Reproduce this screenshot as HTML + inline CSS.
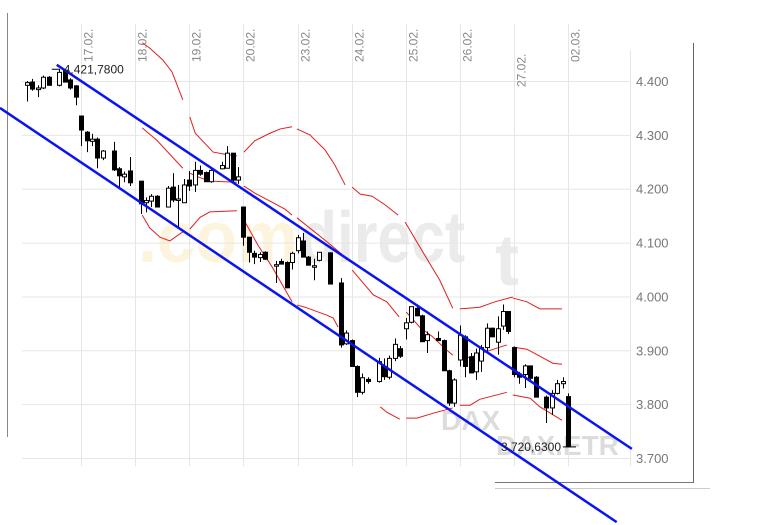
<!DOCTYPE html>
<html><head><meta charset="utf-8"><style>
html,body{margin:0;padding:0;background:#fff;}
svg{display:block;font-family:"Liberation Sans",sans-serif;}
</style></head><body>
<svg id="chart" width="782" height="525" viewBox="0 0 782 525" xmlns="http://www.w3.org/2000/svg">
<g id="wm">
<text x="138" y="262" font-size="72" font-weight="bold" fill="#fdf4de" textLength="160" lengthAdjust="spacingAndGlyphs">.com</text>
<text x="300" y="262" font-size="72" font-weight="bold" fill="#ebebeb" textLength="165" lengthAdjust="spacingAndGlyphs">direct</text>
<text x="495" y="285" font-size="72" font-weight="bold" fill="#ebebeb">t</text>
<text x="441" y="430" font-size="28" font-weight="bold" fill="#dcdcdc">DAX</text>
<text x="496" y="455" font-size="28" font-weight="bold" fill="#dcdcdc">DAX.ETR</text>
</g>
<g id="grid">
<line x1="630.5" y1="50" x2="630.5" y2="466" stroke="#e6e6e6" stroke-width="1"/>
</g>
<g id="frame">
<line x1="7.5" y1="13" x2="7.5" y2="437" stroke="#888" stroke-width="1"/>
<line x1="693.5" y1="43" x2="693.5" y2="482" stroke="#666" stroke-width="1"/>
<line x1="495" y1="482.5" x2="694" y2="482.5" stroke="#777" stroke-width="1"/>
<line x1="495" y1="488.5" x2="710" y2="488.5" stroke="#ccc" stroke-width="1"/>
</g>
<g id="bands"></g>
<g id="candles"></g>
<g id="channel"></g>
<g id="labels"></g>
</svg>
<script>
const slots=[0,1,2,3,4,6,7,8,9,10,11,12,13,14,16,17,18,19,21,22,23,24,26,27,28,29,30,31,32,33,34,36,37,38,39,40,41,42,43,44,46,47,48,49,50,51,52,53,54,56,58,59,60,61,62,63,65,66,67,68,69,70,71,72,73,74,76,77,78,79,80,81,82,83,84,85,86,87,88,89,90,91,92,93,94,96,97,98,99,100];
const opens=[4392,4398,4384,4387,4407,4392,4420,4402,4391,4335,4305,4288,4292,4257,4270,4237,4222,4233,4214,4174,4177,4186,4166,4203,4180,4174,4216,4207,4234,4230,4213,4237,4238,4266,4216,4166,4110,4080,4072,4082,4058,4065,4063,4063,4085,4103,4073,4055,4067,4081,4025,3912,3918,3870,3822,3846,3842,3870,3850,3885,3903,3940,3952,3978,3964,3918,3922,3918,3862,3802,3882,3925,3888,3860,3880,3905,3941,3915,3945,3972,3905,3856,3855,3871,3850,3813,3793,3820,3838,3814];
const highs=[4400,4404,4392,4410,4409,4422,4422,4405,4392,4335,4307,4302,4295,4272,4287,4240,4232,4259,4214,4184,4190,4188,4205,4229,4207,4218,4233,4250,4243,4232,4236,4250,4279,4266,4240,4166,4110,4085,4082,4084,4066,4070,4065,4083,4114,4118,4075,4070,4082,4082,4034,3937,3920,3872,3857,3850,3886,3885,3890,3922,3908,3960,3981,3980,3966,3935,3935,3920,3864,3848,3946,3928,3895,3903,3910,3950,3942,3963,3985,3972,3907,3860,3874,3872,3852,3816,3826,3845,3850,3820];
const lows=[4362,4382,4370,4385,4392,4390,4398,4384,4355,4279,4268,4279,4238,4253,4233,4203,4212,4205,4153,4156,4166,4166,4166,4175,4127,4174,4196,4194,4224,4213,4211,4236,4238,4210,4209,4094,4063,4060,4064,4068,4025,4060,4016,4050,4080,4073,4058,4030,4065,4023,3905,3910,3870,3813,3818,3838,3840,3845,3846,3880,3886,3920,3950,3964,3916,3895,3918,3862,3797,3795,3870,3850,3858,3845,3860,3895,3925,3892,3938,3930,3850,3838,3830,3845,3813,3765,3780,3818,3829,3720];
const closes=[4397,4385,4387,4407,4392,4416,4398,4387,4370,4309,4289,4292,4257,4270,4235,4224,4227,4211,4172,4178,4186,4166,4201,4179,4181,4207,4205,4234,4227,4213,4234,4243,4266,4216,4222,4110,4082,4073,4078,4069,4059,4060,4016,4080,4109,4073,4058,4057,4082,4023,3910,3932,3870,3822,3849,3842,3879,3851,3885,3911,3889,3951,3981,3964,3916,3929,3918,3862,3802,3845,3928,3870,3858,3895,3905,3941,3925,3940,3972,3935,3855,3850,3871,3848,3813,3793,3820,3838,3842,3721];
const yTicks=[4400,4300,4200,4100,4000,3900,3800,3700];
const yTickLabels=["4.400","4.300","4.200","4.100","4.000","3.900","3.800","3.700"];
const dateSlots=[10,20,30,40,50,60,70,80,90,100];
const dateLabels=["17.02.","18.02.","19.02.","20.02.","23.02.","24.02.","25.02.","26.02.","27.02.","02.03."];
const upperBand=[[[21.3,4471],[22.7,4461],[25.1,4439],[26.8,4417],[28.8,4365]],[[30.1,4333],[31.1,4303],[34.4,4268],[36.6,4264],[38.8,4261]],[[40.1,4268],[42.1,4289],[44.9,4303],[46.8,4311],[49,4315]],[[49.9,4311],[52.3,4300],[55.1,4272],[56.9,4244],[58.8,4207]],[[60.1,4203],[61.6,4190],[63.8,4186],[66.2,4170],[68.6,4151]],[[69.9,4138],[72.6,4092],[76.3,4030],[78.7,3978]],[[80,3977],[83.7,3980],[86.5,3990],[89.8,3999]],[[89.8,3997],[92.4,3990],[94.8,3977],[98.9,3977]]];
const midBand=[[[21.3,4313],[24,4290],[28.8,4238]],[[30.1,4229],[31.1,4224],[33.8,4214],[38.8,4212]],[[40.1,4205],[42.1,4192],[44.9,4177],[47.7,4162],[49,4151]],[[49.9,4146],[55.5,4101],[57.9,4081],[59.1,4068]],[[60.1,4049],[64,4003],[66.5,3990],[68.8,3962]],[[70.1,3971],[72.6,3943],[75,3925],[77.6,3900],[78.7,3891]],[[80,3887],[81.9,3887],[85.6,3900],[88.7,3910]],[[89.8,3906],[92.4,3902],[97.2,3876],[98.9,3874]]];
const lowerBand=[[[21.3,4151],[22.7,4127],[24.6,4110],[26.4,4103],[28.8,4120]],[[30.1,4125],[32,4147],[33.8,4157],[38.8,4159]],[[40.1,4142],[42.7,4095],[45.3,4055],[49,3990]],[[49.9,3984],[51.4,3980],[55.5,3965],[56.6,3960],[57.5,3943]],[[65.3,3795],[66.5,3785],[68.9,3772]],[[70.1,3774],[72.1,3774],[75,3783],[78.7,3793]],[[80,3798],[81.9,3798],[83.7,3809],[88.7,3822]],[[89.8,3817],[93,3811],[94.8,3795],[98.9,3770]]];
const channelUpper=[[5.5,4430],[111.8,3717]];
const channelLower=[[-5,4350],[109,3581]];
const highLabel=[5.5,4421.78,"4.421,7800"];
const lowLabel=[100,3720.63,"3.720,6300"];

const NS="http://www.w3.org/2000/svg";
function X(s){return 27+s*5.41;}
function Y(v){return 81+(4400-v)*0.5386;}
function mk(tag,attrs,parent){const e=document.createElementNS(NS,tag);for(const k in attrs)e.setAttribute(k,attrs[k]);parent.appendChild(e);return e;}
const grid=document.getElementById('grid');
yTicks.forEach((v,i)=>{
  const l=mk('line',{x1:22,x2:630,y1:Y(v)+0.5,y2:Y(v)+0.5,stroke:'#e6e6e6','stroke-width':1},grid);
  
  
  const t=mk('text',{x:636,y:Y(v)+5,'font-size':13,fill:'#777'},grid);
  t.textContent=yTickLabels[i];
  
  
});
dateSlots.forEach((s,i)=>{
  const x=Math.round(X(s))+0.5;
  const l=mk('line',{x1:x,x2:x,y1:24,y2:466,stroke:'#e6e6e6','stroke-width':1},grid);
  
  
  const t=mk('text',{transform:`translate(${x+11},${i==8?87:62}) rotate(-90)`,'font-size':12,fill:'#888'},grid);
  t.textContent=dateLabels[i];
  
  
});
const bands=document.getElementById('bands');
[upperBand,midBand,lowerBand].forEach(b=>b.forEach(seg=>{
  const p=mk('polyline',{points:seg.map(q=>X(q[0])+','+Y(q[1])).join(' '),fill:'none',stroke:'#e02020','stroke-width':1},bands);
  
  
}));
const cg=document.getElementById('candles');
slots.forEach((s,i)=>{
  const x=Math.round(X(s));
  const w=mk('line',{x1:x+0.5,x2:x+0.5,y1:Y(highs[i]),y2:Y(lows[i]),stroke:'#000','stroke-width':1},cg);
  
  
  const up=closes[i]>=opens[i];
  const top=Y(Math.max(opens[i],closes[i])),bot=Y(Math.min(opens[i],closes[i]));
  const r=mk('rect',{x:x-1.5,y:top,width:4,height:Math.max(1.5,bot-top),fill:up?'#fff':'#000',stroke:'#000','stroke-width':1},cg);
  
  
});
const ch=document.getElementById('channel');
[channelUpper,channelLower].forEach(c=>{
  const l=mk('line',{x1:X(c[0][0]),y1:Y(c[0][1]),x2:X(c[1][0]),y2:Y(c[1][1]),stroke:'#0a14f0','stroke-width':2.5},ch);
  
  
});
const lb=document.getElementById('labels');
{
  const x=X(highLabel[0]),y=Y(highLabel[1]);
  mk('line',{x1:x-5,x2:x+3,y1:y,y2:y,stroke:'#000'},lb);
  const t=mk('text',{x:x+7,y:y+4,'font-size':12,fill:'#222'},lb);
  t.textContent=highLabel[2];
  
  
  const x2=X(lowLabel[0]),y2=Y(lowLabel[1]);
  mk('line',{x1:x2-5,x2:x2+8,y1:y2,y2:y2,stroke:'#000'},lb);
  const t2=mk('text',{x:x2-7,y:y2+4,'font-size':12,fill:'#222','text-anchor':'end'},lb);
  t2.textContent=lowLabel[2];
  
  
}
</script>
</body></html>
